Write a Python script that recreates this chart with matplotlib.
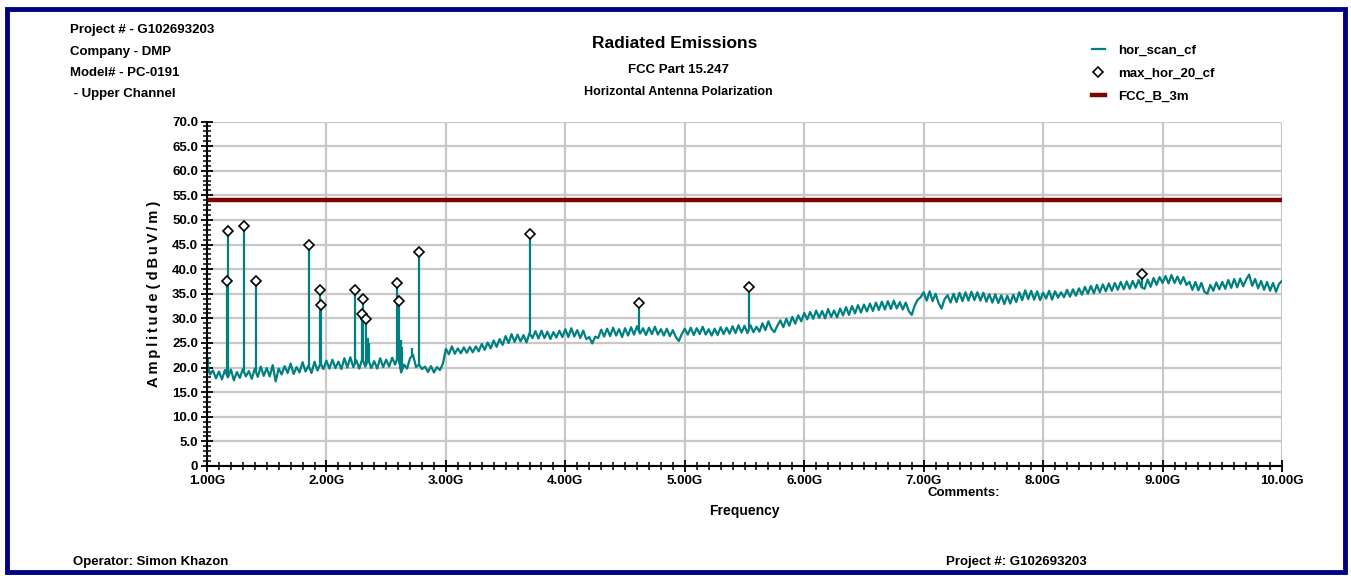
import numpy as np
import matplotlib.pyplot as plt
from matplotlib.patches import Rectangle
from matplotlib.ticker import MultipleLocator, FuncFormatter

plt.rcParams['font.family'] = ['Liberation Sans Narrow', 'Liberation Sans', 'DejaVu Sans']
plt.rcParams['font.weight'] = 'bold'
plt.rcParams['axes.labelweight'] = 'bold'

# horizontal scan, 1 - 10 GHz, 0.025 GHz steps (dBuV/m)
scan_level = [
    21.0, 18.6, 19.4, 17.8, 19.2, 17.6, 19.5, 18.0, 19.6, 17.4, 19.1, 17.9, 19.7, 18.2, 19.3, 17.7, 19.8, 18.1, 20.2, 18.3,
    19.9, 18.2, 20.5, 17.2, 19.8, 18.6, 20.3, 18.9, 20.8, 18.7, 20.1, 19.0, 21.1, 19.2, 20.4, 18.9, 21.2, 19.4, 20.9, 19.7,
    21.4, 19.8, 21.6, 19.9, 21.2, 19.7, 21.9, 20.0, 22.1, 20.1, 21.5, 19.8, 21.8, 20.2, 21.6, 19.9, 21.3, 19.8, 21.9, 20.1,
    21.6, 20.2, 22.0, 20.6, 22.4, 19.0, 20.6, 19.8, 21.9, 22.6, 20.1, 20.6, 19.7, 20.2, 19.1, 20.3, 19.0, 20.1, 19.5, 20.8,
    23.8, 22.7, 24.3, 22.8, 23.9, 22.9, 24.1, 23.0, 24.2, 23.1, 24.3, 23.3, 24.8, 23.6, 25.1, 23.9, 25.5, 24.2, 25.8, 24.6,
    26.4, 25.0, 26.8, 25.2, 26.7, 25.3, 26.6, 25.1, 27.0, 26.0, 27.4, 25.9, 27.5, 26.0, 27.3, 25.8, 27.2, 26.1, 27.5, 26.2,
    27.8, 26.2, 28.0, 26.3, 27.6, 26.0, 27.5, 25.8, 26.2, 24.9, 26.3, 26.0, 27.7, 26.3, 27.9, 26.4, 28.1, 26.5, 27.8, 26.2,
    28.0, 26.5, 28.2, 26.7, 28.4, 26.9, 28.0, 26.6, 28.1, 26.8, 28.3, 26.7, 27.8, 26.5, 27.9, 26.4, 27.6, 26.2, 25.4, 26.8,
    27.9, 26.7, 28.1, 26.6, 28.0, 26.8, 28.3, 26.7, 27.8, 26.5, 27.9, 26.6, 28.2, 26.8, 28.1, 26.9, 28.4, 27.0, 28.6, 27.1,
    28.5, 27.0, 28.6, 27.2, 28.3, 27.3, 29.0, 27.6, 29.4, 27.9, 27.2, 28.5, 29.6, 28.2, 29.9, 28.5, 30.3, 28.9, 30.6, 29.4,
    31.1, 29.8, 31.3, 29.9, 31.6, 30.1, 31.5, 30.0, 31.9, 30.3, 31.6, 30.2, 32.0, 30.6, 32.3, 30.7, 32.5, 31.0, 32.7, 31.2,
    32.8, 31.4, 33.0, 31.5, 33.2, 31.7, 33.4, 31.8, 33.5, 31.9, 33.6, 32.0, 33.3, 31.8, 33.2, 31.5, 30.7, 32.6, 33.8, 34.3,
    35.3, 33.6, 35.5, 33.5, 35.0, 33.1, 32.0, 33.9, 34.7, 33.2, 35.0, 33.3, 35.2, 33.5, 35.3, 33.6, 35.4, 33.7, 35.3, 33.6,
    35.2, 33.4, 34.9, 33.2, 34.9, 33.1, 34.7, 32.9, 34.6, 33.0, 34.8, 33.3, 35.3, 33.7, 35.7, 33.9, 35.6, 33.8, 35.5, 33.7,
    35.2, 34.0, 35.6, 33.8, 35.5, 34.2, 35.3, 34.3, 35.8, 34.4, 35.9, 34.6, 36.1, 34.8, 36.4, 35.0, 36.6, 35.1, 36.8, 35.3,
    36.9, 35.5, 37.1, 35.6, 37.2, 35.8, 37.4, 35.9, 37.5, 36.0, 37.6, 36.2, 37.8, 36.3, 36.0, 37.9, 36.4, 38.2, 36.8, 38.4,
    37.2, 38.6, 37.1, 38.8, 37.2, 38.5, 37.0, 38.4, 36.8, 37.4, 35.8, 37.4, 35.7, 37.2, 35.4, 35.0, 36.8, 35.6, 37.3, 35.9,
    37.4, 36.0, 37.8, 36.2, 38.0, 36.3, 38.1, 36.5, 37.9, 38.9, 36.6, 38.0, 36.1, 37.6, 35.8, 37.4, 35.6, 37.2, 35.4, 37.0,
    37.6,
]

# max-hold peaks (GHz, dBuV/m)
peak_freq = [1.17, 1.175, 1.31, 1.41, 1.85, 1.95, 1.955, 2.24, 2.30, 2.31, 2.33,
             2.59, 2.61, 2.775, 3.70, 4.62, 5.54, 8.83]
peak_level = [37.5, 47.7, 48.8, 37.5, 45.0, 35.7, 32.7, 35.8, 30.8, 34.0, 29.9,
              37.2, 33.5, 43.5, 47.1, 33.1, 36.3, 39.1]

# smaller spurs in the scan without a max-hold marker
spur_freq = [1.005, 2.345, 2.36, 2.62, 2.635, 2.72]
spur_level = [21.8, 26.0, 25.0, 25.6, 24.2, 24.0]

limit_level = 54.0
x_ticks = [1, 2, 3, 4, 5, 6, 7, 8, 9, 10]

scan_freq = np.linspace(1.0, 10.0, len(scan_level))

fig = plt.figure(figsize=(13.51, 5.76), dpi=100)
ax = fig.add_axes([207 / 1351, 1 - 466 / 576, 1075 / 1351, 344.5 / 576])

teal = '#008080'
scan_line, = ax.plot(scan_freq, scan_level, color=teal, lw=1.6, zorder=3)
spike_f = peak_freq + spur_freq
spike_top = peak_level + spur_level
ax.vlines(spike_f, np.interp(spike_f, scan_freq, scan_level), spike_top,
          color=teal, lw=1.6, zorder=3)
peak_pts, = ax.plot(peak_freq, peak_level, ls='none', marker='D', ms=5,
                    mfc='white', mec='black', mew=1.2, zorder=5)
limit_line = ax.axhline(limit_level, color='#800000', lw=3.2, zorder=4)

ax.set_xlim(1, 10)
ax.set_ylim(0, 70)
ax.set_xticks(x_ticks)
ax.xaxis.set_minor_locator(MultipleLocator(0.1))
ax.yaxis.set_major_locator(MultipleLocator(5))
ax.yaxis.set_minor_locator(MultipleLocator(1))
ax.xaxis.set_major_formatter(FuncFormatter(lambda v, p: f'{v:.2f}G'))
ax.yaxis.set_major_formatter(FuncFormatter(lambda v, p: '0' if v == 0 else f'{v:.1f}'))
ax.tick_params(which='major', direction='inout', length=9, width=1.3, labelsize=9.5, pad=2)
ax.tick_params(which='minor', direction='inout', length=6, width=1.1)
ax.grid(True, which='major', color='#c8c8c8', lw=1.6)
ax.set_axisbelow(True)
for s in ['top', 'right']:
    ax.spines[s].set_visible(False)
for s in ['left', 'bottom']:
    ax.spines[s].set_linewidth(1.5)
    ax.spines[s].set_zorder(6)

ax.set_xlabel('Frequency', fontsize=10, labelpad=12)
ylab = '\u2009'.join('Amplitude') + ' ( ' + '\u2009'.join('dBuV/m') + ' )'
ax.set_ylabel(ylab, fontsize=10.5, labelpad=8)

# report header
hdr = ['Project # - G102693203', 'Company - DMP', 'Model# - PC-0191', ' - Upper Channel']
for i, t in enumerate(hdr):
    fig.text(70 / 1351, 1 - (30 + i * 21.5) / 576, t, fontsize=9.5, va='center')

fig.text(675 / 1351, 1 - 44 / 576, 'Radiated Emissions', fontsize=12.5, ha='center', va='center')
fig.text(678 / 1351, 1 - 70 / 576, 'FCC Part 15.247', fontsize=9.5, ha='center', va='center')
fig.text(678 / 1351, 1 - 92 / 576, 'Horizontal Antenna Polarization', fontsize=9, ha='center', va='center')

fig.legend([scan_line, peak_pts, limit_line], ['hor_scan_cf', 'max_hor_20_cf', 'FCC_B_3m'],
           loc='upper left', bbox_to_anchor=(1080 / 1351, 1 - 33 / 576), frameon=False,
           fontsize=9.5, handlelength=1.0, handletextpad=1.0, labelspacing=0.8)

fig.text(928 / 1351, 1 - 493 / 576, 'Comments:', fontsize=9.5, va='center')
fig.text(73 / 1351, 1 - 562 / 576, 'Operator: Simon Khazon', fontsize=9.5, va='center')
fig.text(946 / 1351, 1 - 562 / 576, 'Project #: G102693203', fontsize=9.5, va='center')

# page frame
fig.patches.append(Rectangle((7 / 1351, 1 - 572 / 576), 1338 / 1351, 563 / 576,
                             transform=fig.transFigure, fill=False, ec='#000080', lw=3.5))

fig.savefig('out.png', dpi=100)
